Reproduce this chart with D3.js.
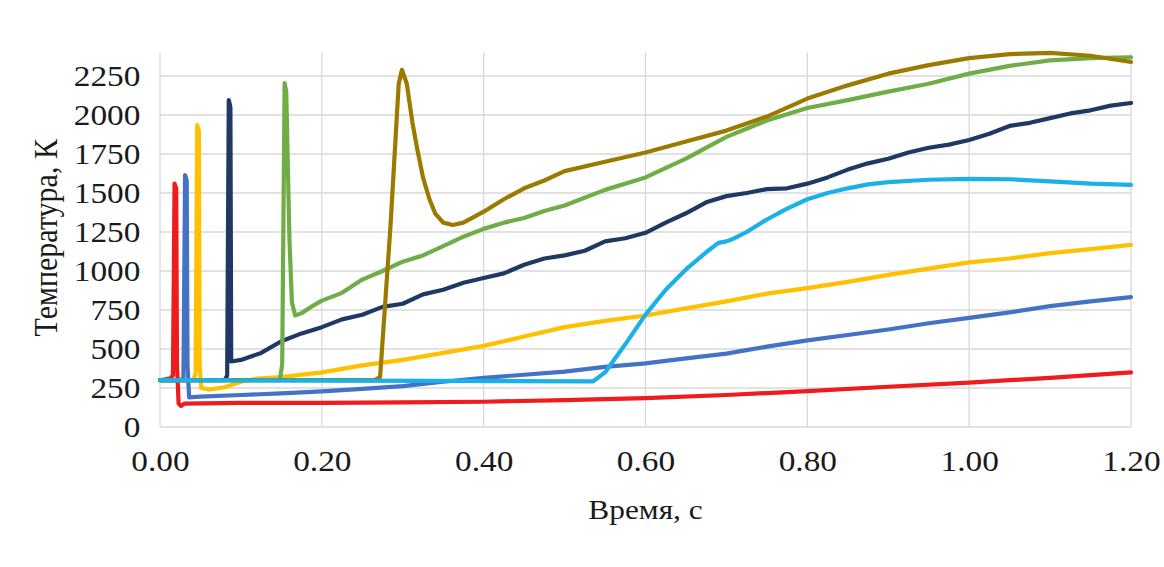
<!DOCTYPE html>
<html>
<head>
<meta charset="utf-8">
<script src="https://cdn.jsdelivr.net/npm/d3@7"></script>
<style>
  html, body { margin: 0; padding: 0; background: #fff; }
  svg text { font-family: "Liberation Serif", "Times New Roman", serif; fill: #1a1a1a; }
</style>
</head>
<body>
<div id="chart"></div>
<script>
// tick labels / axis titles
var xTicks = [0, 0.2, 0.4, 0.6, 0.8, 1.0, 1.2];
var yTicks = [0, 250, 500, 750, 1000, 1250, 1500, 1750, 2000, 2250];
var xTitle = "Время, с";
var yTitle = "Температура, К";

// series: [time s, temperature K]
var redSeries = [[0,300],[0.012,310],[0.016,330],[0.018,1560],[0.020,1530],[0.021,400],[0.023,150],[0.026,135],[0.03,150],[0.1,155],[0.2,155],[0.3,158],[0.4,162],[0.5,172],[0.6,185],[0.7,205],[0.8,230],[0.9,258],[1.0,285],[1.1,315],[1.2,350]];
var blueSeries = [[0,300],[0.026,300],[0.029,320],[0.031,1615],[0.033,1580],[0.034,400],[0.036,190],[0.05,195],[0.1,205],[0.15,215],[0.2,228],[0.25,245],[0.3,262],[0.35,290],[0.4,315],[0.45,335],[0.5,355],[0.55,385],[0.6,408],[0.65,440],[0.7,470],[0.75,515],[0.8,555],[0.85,590],[0.9,625],[0.95,665],[1.0,700],[1.05,735],[1.1,775],[1.15,805],[1.2,833]];
var yellowSeries = [[0,300],[0.041,300],[0.044,340],[0.046,1936],[0.048,1900],[0.049,400],[0.051,250],[0.06,240],[0.08,255],[0.1,290],[0.12,310],[0.15,320],[0.2,350],[0.25,395],[0.3,430],[0.35,475],[0.4,520],[0.45,580],[0.5,640],[0.55,680],[0.6,715],[0.65,760],[0.7,805],[0.75,855],[0.8,890],[0.85,930],[0.9,975],[0.95,1015],[1.0,1055],[1.05,1080],[1.1,1115],[1.15,1140],[1.2,1167]];
var navySeries = [[0,300],[0.08,300],[0.083,330],[0.085,2096],[0.087,2050],[0.088,420],[0.1,430],[0.125,475],[0.15,550],[0.175,600],[0.2,640],[0.225,690],[0.25,720],[0.275,770],[0.3,790],[0.325,850],[0.35,880],[0.375,925],[0.4,955],[0.425,985],[0.45,1040],[0.475,1080],[0.5,1100],[0.525,1130],[0.55,1190],[0.575,1210],[0.6,1245],[0.625,1310],[0.65,1370],[0.675,1440],[0.7,1480],[0.725,1500],[0.75,1525],[0.775,1530],[0.8,1560],[0.825,1600],[0.85,1650],[0.875,1690],[0.9,1720],[0.925,1760],[0.95,1790],[0.975,1810],[1.0,1840],[1.025,1880],[1.05,1930],[1.075,1950],[1.1,1980],[1.125,2010],[1.15,2030],[1.175,2060],[1.2,2077]];
var greenSeries = [[0,300],[0.148,300],[0.151,400],[0.154,2205],[0.156,2150],[0.16,1200],[0.163,800],[0.167,715],[0.175,730],[0.19,780],[0.2,810],[0.225,860],[0.25,945],[0.275,1000],[0.3,1060],[0.325,1100],[0.35,1160],[0.375,1220],[0.4,1270],[0.425,1310],[0.45,1340],[0.475,1385],[0.5,1420],[0.55,1520],[0.6,1600],[0.65,1720],[0.7,1860],[0.75,1965],[0.8,2045],[0.85,2095],[0.9,2150],[0.95,2200],[1.0,2265],[1.05,2315],[1.1,2350],[1.15,2365],[1.2,2370]];
var brownSeries = [[0,300],[0.265,300],[0.272,320],[0.285,1300],[0.295,2200],[0.299,2290],[0.305,2200],[0.312,1950],[0.318,1780],[0.325,1600],[0.333,1460],[0.34,1370],[0.35,1310],[0.362,1295],[0.375,1310],[0.4,1380],[0.425,1460],[0.45,1530],[0.475,1580],[0.5,1640],[0.55,1700],[0.6,1760],[0.65,1830],[0.7,1900],[0.75,1990],[0.8,2105],[0.85,2190],[0.9,2265],[0.95,2320],[1.0,2365],[1.05,2390],[1.1,2398],[1.15,2380],[1.2,2340]];
var cyanSeries = [[0,300],[0.535,292],[0.55,350],[0.575,530],[0.6,720],[0.625,880],[0.65,1010],[0.675,1120],[0.69,1180],[0.70,1190],[0.71,1210],[0.725,1250],[0.75,1330],[0.775,1400],[0.8,1460],[0.825,1500],[0.85,1530],[0.875,1555],[0.9,1570],[0.95,1585],[1.0,1590],[1.05,1588],[1.1,1575],[1.15,1560],[1.2,1552]];

var seriesList = [redSeries, blueSeries, yellowSeries, navySeries, greenSeries, brownSeries, cyanSeries];
var seriesColors = ["#ee1c1c", "#4472c4", "#ffc000", "#203864", "#70ad47", "#9c7a00", "#1ab0ea"];

var width = 1164, height = 567;
var margin = { top: 52.6, right: 33, bottom: 140, left: 160 };
var innerW = width - margin.left - margin.right,
    innerH = height - margin.top - margin.bottom;

var svg = d3.select("#chart").append("svg")
    .attr("width", width)
    .attr("height", height);

var g = svg.append("g")
    .attr("transform", "translate(" + margin.left + "," + margin.top + ")");

var x = d3.scaleLinear().domain([0, 1.2]).range([0, innerW]);
var y = d3.scaleLinear().domain([0, 2400]).range([innerH, 0]);

// gridlines
g.append("g").selectAll("line.h")
    .data(yTicks)
    .enter().append("line")
    .attr("x1", 0).attr("x2", innerW)
    .attr("y1", function (d) { return y(d); })
    .attr("y2", function (d) { return y(d); })
    .attr("stroke", "#d9d9d9").attr("stroke-width", 1.3);

g.append("g").selectAll("line.v")
    .data(xTicks)
    .enter().append("line")
    .attr("x1", function (d) { return x(d); })
    .attr("x2", function (d) { return x(d); })
    .attr("y1", 0).attr("y2", innerH)
    .attr("stroke", "#d9d9d9").attr("stroke-width", 1.3);

// axes
var xAxis = g.append("g")
    .attr("transform", "translate(0," + innerH + ")")
    .call(d3.axisBottom(x).tickValues(xTicks).tickSize(0).tickPadding(23)
        .tickFormat(function (d) { return d.toFixed(2); }));
var yAxis = g.append("g")
    .call(d3.axisLeft(y).tickValues(yTicks).tickSize(0).tickPadding(17)
        .tickFormat(d3.format("d")));

[xAxis, yAxis].forEach(function (a) {
    a.select(".domain").remove();
    a.selectAll("text")
        .attr("font-family", "Liberation Serif, serif")
        .attr("font-size", 29)
        .attr("fill", "#1a1a1a")
        .attr("transform", "scale(1.15,1)");
});

// lines
var line = d3.line()
    .x(function (d) { return x(d[0]); })
    .y(function (d) { return y(d[1]); });

g.append("g").selectAll("path")
    .data(seriesList)
    .enter().append("path")
    .attr("d", line)
    .attr("fill", "none")
    .attr("stroke", function (d, i) { return seriesColors[i]; })
    .attr("stroke-width", 4.2)
    .attr("stroke-linejoin", "round")
    .attr("stroke-linecap", "round");

// axis titles
svg.append("text")
    .attr("transform", "translate(" + (margin.left + innerW / 2) + ",519) scale(1.12,1)")
    .attr("text-anchor", "middle")
    .attr("font-size", 28)
    .text(xTitle);

svg.append("text")
    .attr("transform", "translate(57," + (margin.top + innerH / 2 - 2) + ") rotate(-90) scale(1,1.12)")
    .attr("text-anchor", "middle")
    .attr("font-size", 30)
    .text(yTitle);
</script>
</body>
</html>
